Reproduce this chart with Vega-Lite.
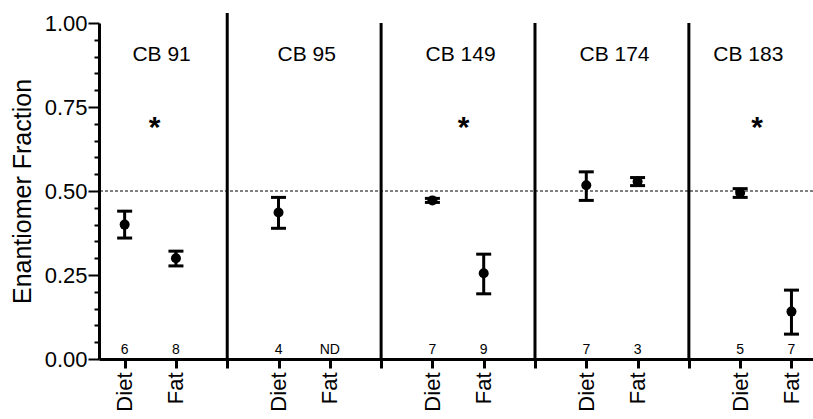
{
  "$schema": "https://vega.github.io/schema/vega-lite/v6.json",
  "width": 714,
  "height": 336,
  "autosize": {"type": "none"},
  "padding": {"left": 99, "top": 23, "right": 0, "bottom": 60},
  "background": "white",
  "config": {
    "view": {"stroke": null},
    "axis": {
      "grid": false,
      "tickColor": "black",
      "domainColor": "black",
      "domainWidth": 3,
      "labelFont": "Liberation Sans",
      "labelFontSize": 22,
      "labelColor": "black",
      "labelOverlap": false,
      "labelFlush": false,
      "titleFont": "Liberation Sans",
      "titleFontSize": 25,
      "titleFontWeight": "normal",
      "titleColor": "black"
    },
    "axisX": {
      "labelAngle": -90,
      "labelAlign": "right",
      "labelBaseline": "middle",
      "labelPadding": 4,
      "tickSize": 9,
      "tickWidth": 3
    },
    "axisY": {
      "tickWidth": 2,
      "labelPadding": 1,
      "titlePadding": 9
    }
  },
  "datasets": {
    "main": [
      {"compound": "CB 91", "group": "Diet", "slot": 1, "mean": 0.40, "lo": 0.36, "hi": 0.44, "n": "6"},
      {"compound": "CB 91", "group": "Fat", "slot": 2, "mean": 0.30, "lo": 0.277, "hi": 0.321, "n": "8"},
      {"compound": "CB 95", "group": "Diet", "slot": 4, "mean": 0.436, "lo": 0.389, "hi": 0.481, "n": "4"},
      {"compound": "CB 95", "group": "Fat", "slot": 5, "mean": null, "lo": null, "hi": null, "n": "ND"},
      {"compound": "CB 149", "group": "Diet", "slot": 7, "mean": 0.472, "lo": 0.466, "hi": 0.478, "n": "7"},
      {"compound": "CB 149", "group": "Fat", "slot": 8, "mean": 0.255, "lo": 0.194, "hi": 0.312, "n": "9"},
      {"compound": "CB 174", "group": "Diet", "slot": 10, "mean": 0.517, "lo": 0.472, "hi": 0.557, "n": "7"},
      {"compound": "CB 174", "group": "Fat", "slot": 11, "mean": 0.528, "lo": 0.516, "hi": 0.540, "n": "3"},
      {"compound": "CB 183", "group": "Diet", "slot": 13, "mean": 0.495, "lo": 0.481, "hi": 0.507, "n": "5"},
      {"compound": "CB 183", "group": "Fat", "slot": 14, "mean": 0.141, "lo": 0.074, "hi": 0.205, "n": "7"}
    ],
    "dividers": [
      {"slot": 3, "top": 1.03},
      {"slot": 6, "top": 1.0},
      {"slot": 9, "top": 1.0},
      {"slot": 12, "top": 1.0}
    ],
    "titles": [
      {"compound": "CB 91", "slot": 1.72},
      {"compound": "CB 95", "slot": 4.55},
      {"compound": "CB 149", "slot": 7.55},
      {"compound": "CB 174", "slot": 10.55},
      {"compound": "CB 183", "slot": 13.16}
    ],
    "stars": [
      {"compound": "CB 91", "slot": 1.585},
      {"compound": "CB 149", "slot": 7.61},
      {"compound": "CB 183", "slot": 13.33}
    ],
    "ref": [
      {"slot": 0.5, "level": 0.5}
    ]
  },
  "layer": [
    {
      "data": {"name": "dividers"},
      "mark": {"type": "rule", "color": "black", "strokeWidth": 3},
      "encoding": {
        "x": {
          "field": "slot", "type": "quantitative",
          "scale": {"domain": [0.5, 14.42], "nice": false, "zero": false},
          "axis": {"title": null, "values": [1, 2, 3, 4, 5, 6, 7, 8, 9, 10, 11, 12, 13, 14], "labelExpr": "datum.value % 3 == 1 ? 'Diet' : (datum.value % 3 == 2 ? 'Fat' : '')"}
        },
        "y": {
          "field": "top", "type": "quantitative",
          "scale": {"domain": [0, 1], "nice": false, "zero": true},
          "axis": {"title": "Enantiomer Fraction", "values": [0, 0.05, 0.1, 0.15, 0.2, 0.25, 0.3, 0.35, 0.4, 0.45, 0.5, 0.55, 0.6, 0.65, 0.7, 0.75, 0.8, 0.85, 0.9, 0.95, 1], "labelExpr": "abs(datum.value*4 - round(datum.value*4)) < 0.001 ? format(datum.value, '.2f') : ''", "tickSize": {"condition": {"test": "abs(datum.value*4 - round(datum.value*4)) < 0.001", "value": 11}, "value": 5}}
        },
        "y2": {"datum": 0}
      }
    },
    {
      "data": {"name": "ref"},
      "mark": {"type": "rule", "color": "black", "strokeWidth": 1, "strokeDash": [3, 2]},
      "encoding": {
        "y": {"field": "level", "type": "quantitative", "axis": {"title": "Enantiomer Fraction", "values": [0, 0.05, 0.1, 0.15, 0.2, 0.25, 0.3, 0.35, 0.4, 0.45, 0.5, 0.55, 0.6, 0.65, 0.7, 0.75, 0.8, 0.85, 0.9, 0.95, 1], "labelExpr": "abs(datum.value*4 - round(datum.value*4)) < 0.001 ? format(datum.value, '.2f') : ''", "tickSize": {"condition": {"test": "abs(datum.value*4 - round(datum.value*4)) < 0.001", "value": 11}, "value": 5}}}
      }
    },
    {
      "data": {"name": "main"},
      "mark": {"type": "rule", "color": "black", "strokeWidth": 3},
      "encoding": {
        "x": {"field": "slot", "type": "quantitative", "axis": {"title": null, "values": [1, 2, 3, 4, 5, 6, 7, 8, 9, 10, 11, 12, 13, 14], "labelExpr": "datum.value % 3 == 1 ? 'Diet' : (datum.value % 3 == 2 ? 'Fat' : '')"}},
        "y": {"field": "lo", "type": "quantitative", "axis": {"title": "Enantiomer Fraction", "values": [0, 0.05, 0.1, 0.15, 0.2, 0.25, 0.3, 0.35, 0.4, 0.45, 0.5, 0.55, 0.6, 0.65, 0.7, 0.75, 0.8, 0.85, 0.9, 0.95, 1], "labelExpr": "abs(datum.value*4 - round(datum.value*4)) < 0.001 ? format(datum.value, '.2f') : ''", "tickSize": {"condition": {"test": "abs(datum.value*4 - round(datum.value*4)) < 0.001", "value": 11}, "value": 5}}},
        "y2": {"field": "hi"}
      }
    },
    {
      "data": {"name": "main"},
      "mark": {"type": "tick", "orient": "horizontal", "color": "black", "size": 15, "thickness": 3, "opacity": 1},
      "encoding": {
        "x": {"field": "slot", "type": "quantitative", "axis": {"title": null, "values": [1, 2, 3, 4, 5, 6, 7, 8, 9, 10, 11, 12, 13, 14], "labelExpr": "datum.value % 3 == 1 ? 'Diet' : (datum.value % 3 == 2 ? 'Fat' : '')"}},
        "y": {"field": "lo", "type": "quantitative", "axis": {"title": "Enantiomer Fraction", "values": [0, 0.05, 0.1, 0.15, 0.2, 0.25, 0.3, 0.35, 0.4, 0.45, 0.5, 0.55, 0.6, 0.65, 0.7, 0.75, 0.8, 0.85, 0.9, 0.95, 1], "labelExpr": "abs(datum.value*4 - round(datum.value*4)) < 0.001 ? format(datum.value, '.2f') : ''", "tickSize": {"condition": {"test": "abs(datum.value*4 - round(datum.value*4)) < 0.001", "value": 11}, "value": 5}}}
      }
    },
    {
      "data": {"name": "main"},
      "mark": {"type": "tick", "orient": "horizontal", "color": "black", "size": 15, "thickness": 3, "opacity": 1},
      "encoding": {
        "x": {"field": "slot", "type": "quantitative", "axis": {"title": null, "values": [1, 2, 3, 4, 5, 6, 7, 8, 9, 10, 11, 12, 13, 14], "labelExpr": "datum.value % 3 == 1 ? 'Diet' : (datum.value % 3 == 2 ? 'Fat' : '')"}},
        "y": {"field": "hi", "type": "quantitative", "axis": {"title": "Enantiomer Fraction", "values": [0, 0.05, 0.1, 0.15, 0.2, 0.25, 0.3, 0.35, 0.4, 0.45, 0.5, 0.55, 0.6, 0.65, 0.7, 0.75, 0.8, 0.85, 0.9, 0.95, 1], "labelExpr": "abs(datum.value*4 - round(datum.value*4)) < 0.001 ? format(datum.value, '.2f') : ''", "tickSize": {"condition": {"test": "abs(datum.value*4 - round(datum.value*4)) < 0.001", "value": 11}, "value": 5}}}
      }
    },
    {
      "data": {"name": "main"},
      "mark": {"type": "circle", "color": "black", "size": 100, "opacity": 1},
      "encoding": {
        "x": {"field": "slot", "type": "quantitative", "axis": {"title": null, "values": [1, 2, 3, 4, 5, 6, 7, 8, 9, 10, 11, 12, 13, 14], "labelExpr": "datum.value % 3 == 1 ? 'Diet' : (datum.value % 3 == 2 ? 'Fat' : '')"}},
        "y": {"field": "mean", "type": "quantitative", "axis": {"title": "Enantiomer Fraction", "values": [0, 0.05, 0.1, 0.15, 0.2, 0.25, 0.3, 0.35, 0.4, 0.45, 0.5, 0.55, 0.6, 0.65, 0.7, 0.75, 0.8, 0.85, 0.9, 0.95, 1], "labelExpr": "abs(datum.value*4 - round(datum.value*4)) < 0.001 ? format(datum.value, '.2f') : ''", "tickSize": {"condition": {"test": "abs(datum.value*4 - round(datum.value*4)) < 0.001", "value": 11}, "value": 5}}}
      }
    },
    {
      "data": {"name": "main"},
      "mark": {"type": "text", "font": "Liberation Sans", "fontSize": 14, "color": "black", "baseline": "bottom", "dy": -2},
      "encoding": {
        "x": {"field": "slot", "type": "quantitative", "axis": {"title": null, "values": [1, 2, 3, 4, 5, 6, 7, 8, 9, 10, 11, 12, 13, 14], "labelExpr": "datum.value % 3 == 1 ? 'Diet' : (datum.value % 3 == 2 ? 'Fat' : '')"}},
        "y": {"datum": 0, "axis": {"title": "Enantiomer Fraction", "values": [0, 0.05, 0.1, 0.15, 0.2, 0.25, 0.3, 0.35, 0.4, 0.45, 0.5, 0.55, 0.6, 0.65, 0.7, 0.75, 0.8, 0.85, 0.9, 0.95, 1], "labelExpr": "abs(datum.value*4 - round(datum.value*4)) < 0.001 ? format(datum.value, '.2f') : ''", "tickSize": {"condition": {"test": "abs(datum.value*4 - round(datum.value*4)) < 0.001", "value": 11}, "value": 5}}},
        "text": {"field": "n"}
      }
    },
    {
      "data": {"name": "titles"},
      "mark": {"type": "text", "font": "Liberation Sans", "fontSize": 21, "color": "black", "baseline": "middle"},
      "encoding": {
        "x": {"field": "slot", "type": "quantitative", "axis": {"title": null, "values": [1, 2, 3, 4, 5, 6, 7, 8, 9, 10, 11, 12, 13, 14], "labelExpr": "datum.value % 3 == 1 ? 'Diet' : (datum.value % 3 == 2 ? 'Fat' : '')"}},
        "y": {"datum": 0.905, "axis": {"title": "Enantiomer Fraction", "values": [0, 0.05, 0.1, 0.15, 0.2, 0.25, 0.3, 0.35, 0.4, 0.45, 0.5, 0.55, 0.6, 0.65, 0.7, 0.75, 0.8, 0.85, 0.9, 0.95, 1], "labelExpr": "abs(datum.value*4 - round(datum.value*4)) < 0.001 ? format(datum.value, '.2f') : ''", "tickSize": {"condition": {"test": "abs(datum.value*4 - round(datum.value*4)) < 0.001", "value": 11}, "value": 5}}},
        "text": {"field": "compound"}
      }
    },
    {
      "data": {"name": "stars"},
      "mark": {"type": "text", "font": "Liberation Sans", "fontSize": 30, "fontWeight": "bold", "color": "black", "baseline": "middle", "dy": 6},
      "encoding": {
        "x": {"field": "slot", "type": "quantitative", "axis": {"title": null, "values": [1, 2, 3, 4, 5, 6, 7, 8, 9, 10, 11, 12, 13, 14], "labelExpr": "datum.value % 3 == 1 ? 'Diet' : (datum.value % 3 == 2 ? 'Fat' : '')"}},
        "y": {"datum": 0.705, "axis": {"title": "Enantiomer Fraction", "values": [0, 0.05, 0.1, 0.15, 0.2, 0.25, 0.3, 0.35, 0.4, 0.45, 0.5, 0.55, 0.6, 0.65, 0.7, 0.75, 0.8, 0.85, 0.9, 0.95, 1], "labelExpr": "abs(datum.value*4 - round(datum.value*4)) < 0.001 ? format(datum.value, '.2f') : ''", "tickSize": {"condition": {"test": "abs(datum.value*4 - round(datum.value*4)) < 0.001", "value": 11}, "value": 5}}},
        "text": {"value": "*"}
      }
    }
  ]
}
